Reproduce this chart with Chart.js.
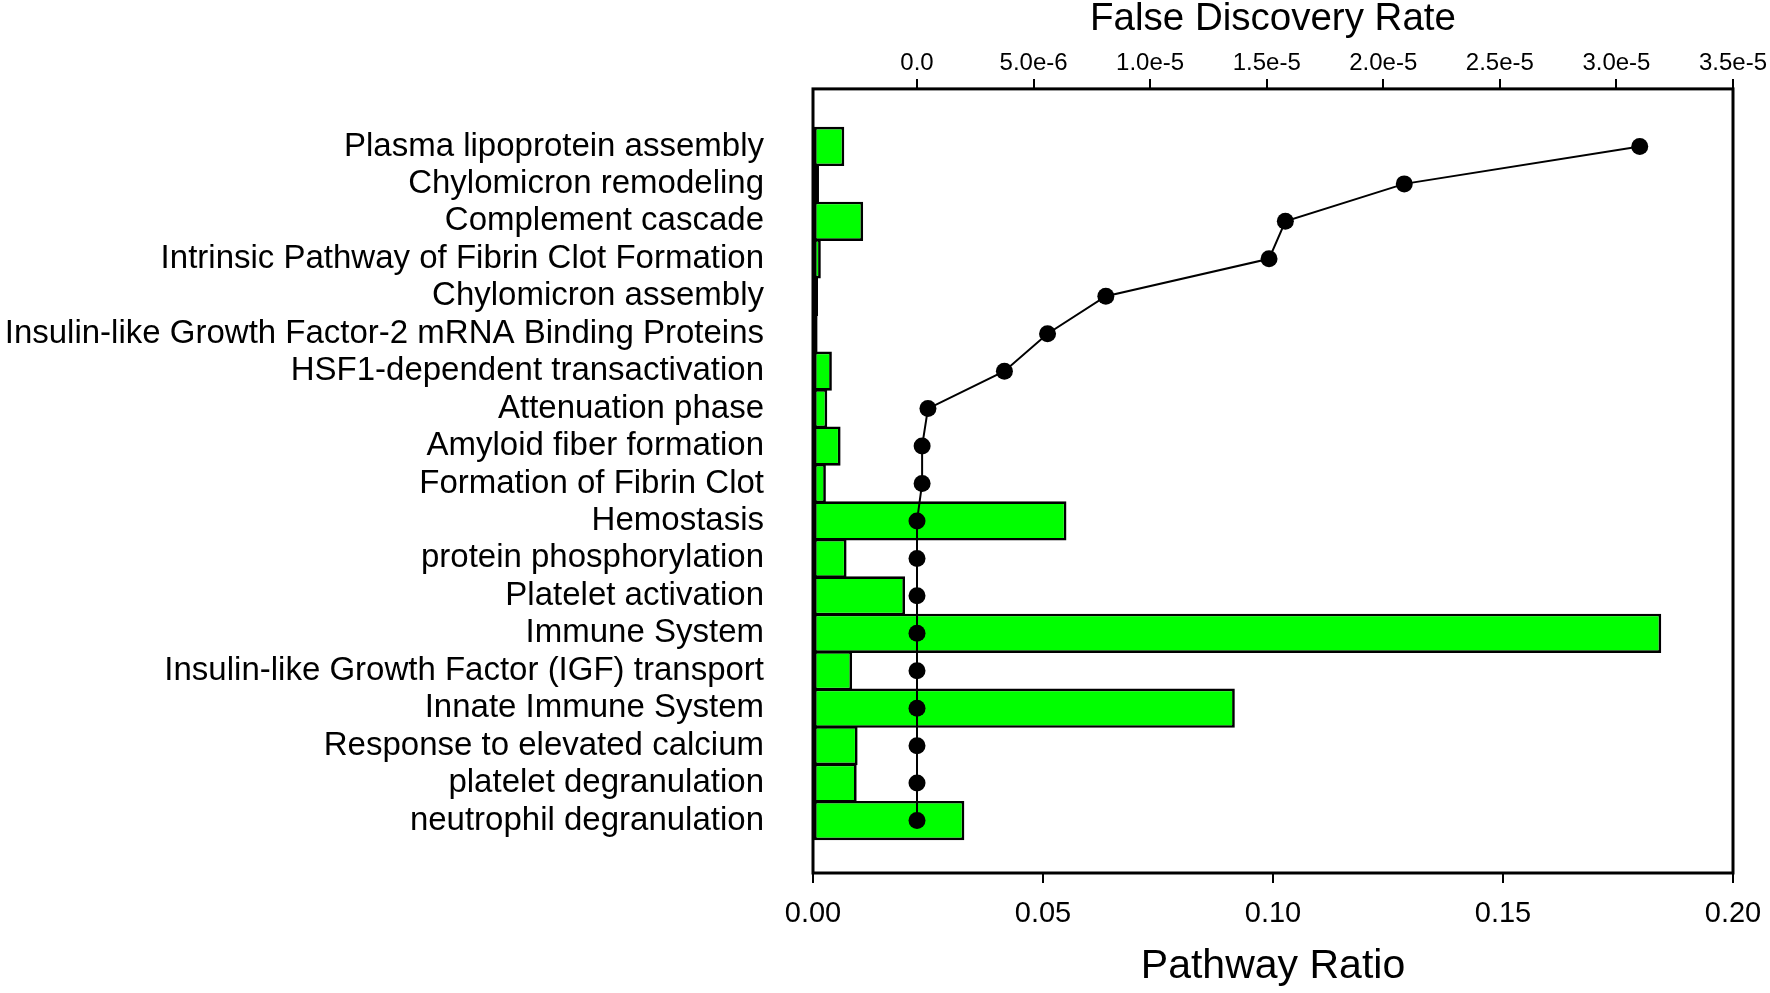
<!DOCTYPE html>
<html>
<head>
<meta charset="utf-8">
<script src="https://cdn.jsdelivr.net/npm/chart.js@4.4.1/dist/chart.umd.min.js"></script>
<style>
  html, body { margin: 0; padding: 0; background: #fff; }
  #wrap { width: 1770px; height: 993px; position: relative; }
</style>
</head>
<body>
<div id="wrap"><canvas id="chart"></canvas></div>
<script>
const categories = [
    'Plasma lipoprotein assembly',
    'Chylomicron remodeling',
    'Complement cascade',
    'Intrinsic Pathway of Fibrin Clot Formation',
    'Chylomicron assembly',
    'Insulin-like Growth Factor-2 mRNA Binding Proteins',
    'HSF1-dependent transactivation',
    'Attenuation phase',
    'Amyloid fiber formation',
    'Formation of Fibrin Clot',
    'Hemostasis',
    'protein phosphorylation',
    'Platelet activation',
    'Immune System',
    'Insulin-like Growth Factor (IGF) transport',
    'Innate Immune System',
    'Response to elevated calcium',
    'platelet degranulation',
    'neutrophil degranulation'
];

const pathwayRatio = [
    0.0068, 0.0013, 0.0109, 0.0017, 0.0011, 0.0010, 0.0041, 0.0031, 0.0060, 0.0028,
    0.0551, 0.0073, 0.0200, 0.1844, 0.0085, 0.0917, 0.0097, 0.0095, 0.0329
];

const falseDiscoveryRate = [
    3.10e-5, 2.09e-5, 1.58e-5, 1.51e-5, 8.1e-6, 5.6e-6, 3.75e-6, 4.7e-7, 2.2e-7, 2.2e-7,
    1e-9, 1e-9, 1e-9, 1e-9, 1e-9, 1e-9, 1e-9, 1e-9, 1e-9
];

const ratioTicks = [0, 0.05, 0.10, 0.15, 0.20];
const ratioTickLabels = ['0.00', '0.05', '0.10', '0.15', '0.20'];
const fdrTicks = [0, 5e-6, 1e-5, 1.5e-5, 2e-5, 2.5e-5, 3e-5, 3.5e-5];
const fdrTickLabels = ['0.0', '5.0e-6', '1.0e-5', '1.5e-5', '2.0e-5', '2.5e-5', '3.0e-5', '3.5e-5'];

const FONT = "'Liberation Sans', Arial, sans-serif";

/* ---------- FRAME ---------- */
const framePlugin = {
    id: 'frame',
    afterDatasetsDraw(chart) {
        const { ctx, chartArea: a } = chart;
        ctx.save();
        ctx.strokeStyle = '#000';
        ctx.lineWidth = 3;
        ctx.strokeRect(a.left, a.top, a.right - a.left, a.bottom - a.top);
        ctx.restore();
    }
};

// labels may hang over the plot edges, keep the layout padding as is
const noSidePadding = s => { s.paddingLeft = 0; s.paddingRight = 0; };

new Chart(document.getElementById('chart'), {
    type: 'bar',
    plugins: [framePlugin],
    data: {
        datasets: [
            {
                type: 'line',
                label: 'False Discovery Rate',
                data: falseDiscoveryRate.map((v, i) => ({ x: v, y: i })),
                xAxisID: 'x2',
                yAxisID: 'y',
                borderColor: '#000',
                borderWidth: 2,
                pointRadius: 8.5,
                pointBackgroundColor: '#000',
                pointBorderWidth: 0,
                tension: 0,
                order: 0
            },
            {
                type: 'bar',
                label: 'Pathway Ratio',
                indexAxis: 'y',
                grouped: false,
                data: pathwayRatio.map((v, i) => ({ x: v, y: i })),
                xAxisID: 'x',
                yAxisID: 'y',
                backgroundColor: '#00ff00',
                borderColor: '#000',
                borderWidth: 2.7,
                borderSkipped: false,
                barPercentage: 1.05,
                categoryPercentage: 1,
                order: 1
            }
        ]
    },
    options: {
        responsive: true,
        maintainAspectRatio: false,
        animation: false,
        layout: { padding: { top: 0, right: 37, bottom: 0, left: 0 } },
        plugins: {
            legend: { display: false },
            tooltip: { enabled: false }
        },
        scales: {
            y: {
                type: 'linear',
                reverse: true,
                offset: false,
                min: -1.536,
                max: 19.4,
                grid: { display: false, offset: false },
                border: { display: false },
                afterBuildTicks: s => { s.ticks = categories.map((_, i) => ({ value: i })); },
                afterFit: s => { s.width = 813; s.paddingTop = 0; s.paddingBottom = 0; },
                ticks: {
                    autoSkip: false,
                    padding: 41,
                    color: '#000',
                    font: { family: FONT, size: 33, lineHeight: 1 },
                    callback: v => categories[v]
                }
            },
            x: {
                type: 'linear',
                position: 'bottom',
                offset: false,
                min: 0,
                max: 0.2,
                border: { display: false },
                grid: { offset: false, drawOnChartArea: false, drawTicks: true, tickLength: 10, color: '#000', lineWidth: 2 },
                afterBuildTicks: s => { s.ticks = ratioTicks.map(v => ({ value: v })); },
                afterFit: noSidePadding,
                ticks: {
                    padding: 13.6,
                    color: '#000',
                    maxRotation: 0,
                    autoSkip: false,
                    font: { family: FONT, size: 29, lineHeight: 1.2 },
                    callback: (v, i) => ratioTickLabels[i]
                },
                title: {
                    display: true,
                    text: 'Pathway Ratio',
                    color: '#000',
                    font: { family: FONT, size: 41, lineHeight: 1 },
                    padding: { top: 1.5, bottom: 5.5 }
                }
            },
            x2: {
                type: 'linear',
                position: 'top',
                offset: false,
                min: -4.46e-6,
                max: 3.5e-5,
                border: { display: false },
                grid: { offset: false, drawOnChartArea: false, drawTicks: true, tickLength: 10, color: '#000', lineWidth: 2 },
                afterBuildTicks: s => { s.ticks = fdrTicks.map(v => ({ value: v })); },
                afterFit: noSidePadding,
                ticks: {
                    padding: 1,
                    color: '#000',
                    maxRotation: 0,
                    autoSkip: false,
                    font: { family: FONT, size: 24, lineHeight: 1.2 },
                    callback: (v, i) => fdrTickLabels[i]
                },
                title: {
                    display: true,
                    text: 'False Discovery Rate',
                    color: '#000',
                    font: { family: FONT, size: 38.5, lineHeight: 1 },
                    padding: { top: 0, bottom: 9.6 }
                }
            }
        }
    }
});
</script>
</body>
</html>
